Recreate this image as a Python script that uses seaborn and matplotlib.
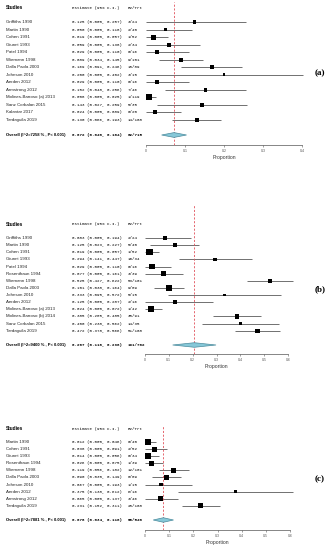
import numpy as np
import pandas as pd
import matplotlib
matplotlib.use("Agg")
import matplotlib.pyplot as plt
import matplotlib.transforms as mtransforms
from matplotlib.patches import Polygon
import seaborn as sns

# --- Panel (a) ---
studies_a = ['Griffiths 1990', 'Martin 1990', 'Cohen 1991', 'Giunni 1993', 'Patel 1994',
             'Wiemann 1998', 'Dalla Paola 2003', 'Johnson 2010', 'Aerden 2012',
             'Armstrong 2012', 'Molines-Barroso (a) 2013', 'Sanz Corbalan 2015',
             'Kalantar 2017', 'Tardaguila 2019']
est_a = [0.125, 0.050, 0.019, 0.059, 0.029, 0.089, 0.169, 0.200, 0.029, 0.152, 0.008, 0.143, 0.024, 0.130]
lo_a = [0.000, 0.000, 0.000, 0.000, 0.000, 0.034, 0.091, 0.000, 0.000, 0.048, 0.000, 0.027, 0.000, 0.066]
hi_a = [0.257, 0.118, 0.057, 0.138, 0.110, 0.145, 0.246, 0.402, 0.110, 0.256, 0.025, 0.259, 0.089, 0.193]
ev_a = ['3/24', '2/40', '1/52', '2/34', '0/16', '9/101', '15/89', '3/15', '0/16', '7/46',
        '1/119', '5/35', '0/20', '14/108']
wt_a = [3, 5, 9, 5, 5, 5, 4, 2, 5, 4, 14, 4, 6, 5]
overall_a = [0.072, 0.040, 0.104]
overall_lab_a = 'Overall (I^2=7258 % , P< 0.001)'
overall_ev_a = '62/715'

# --- Panel (b) ---
studies_b = ['Griffiths 1990', 'Martin 1990', 'Cohen 1991', 'Giunni 1993', 'Patel 1994',
             'Rosenthaun 1994', 'Wiemann 1998', 'Dalla Paola 2003', 'Johnson 2010',
             'Aerden 2012', 'Molines-Barroso (a) 2013', 'Molines-Barroso (b) 2014',
             'Sanz Corbalan 2015', 'Tardaguila 2019']
est_b = [0.083, 0.125, 0.019, 0.294, 0.029, 0.077, 0.525, 0.101, 0.333, 0.125, 0.024, 0.385, 0.400, 0.472]
lo_b = [0.000, 0.023, 0.000, 0.141, 0.000, 0.000, 0.427, 0.038, 0.095, 0.000, 0.000, 0.285, 0.238, 0.378]
hi_b = [0.194, 0.227, 0.057, 0.447, 0.110, 0.161, 0.622, 0.164, 0.572, 0.287, 0.072, 0.485, 0.562, 0.566]
ev_b = ['2/24', '5/40', '1/52', '10/34', '0/16', '3/39', '53/101', '9/89', '5/15', '2/16',
        '1/42', '35/91', '14/35', '51/108']
wt_b = [6, 6, 10, 5, 9, 7, 6, 8, 4, 5, 9, 6, 5, 6]
overall_b = [0.207, 0.116, 0.298]
overall_lab_b = 'Overall (I^2=9400 % , P< 0.001)'
overall_ev_b = '191/702'

# --- Panel (c) ---
studies_c = ['Martin 1990', 'Cohen 1991', 'Giunni 1993', 'Rosenthaun 1994', 'Wiemann 1998',
             'Dalla Paola 2003', 'Johnson 2010', 'Aerden 2012', 'Armstrong 2012',
             'Tardaguila 2019']
est_c = [0.012, 0.038, 0.014, 0.026, 0.119, 0.090, 0.067, 0.375, 0.065, 0.231]
lo_c = [0.000, 0.000, 0.000, 0.000, 0.056, 0.030, 0.000, 0.138, 0.000, 0.152]
hi_c = [0.046, 0.091, 0.056, 0.075, 0.182, 0.149, 0.193, 0.612, 0.137, 0.311]
ev_c = ['0/40', '2/52', '0/34', '1/39', '12/101', '8/89', '1/15', '6/16', '3/46', '25/108']
wt_c = [10, 7, 9, 8, 6, 6, 4, 2, 6, 6]
overall_c = [0.076, 0.034, 0.118]
overall_lab_c = 'Overall (I^2=7881 % , P< 0.001)'
overall_ev_c = '58/540'

W, H = 328, 550
fig = plt.figure(figsize=(W / 100, H / 100), dpi=100)

sans = 'Liberation Sans'
mono = 'Liberation Mono'


def forest(studies, est, lo, hi, ev, wt, overall, overall_lab, overall_ev,
           x0, x1, xmax, y_top, y_r0, y_ov, y_axis, label, label_y):
    """Draw one forest panel, layout given in pixels."""
    n = len(studies)
    step = (y_ov - y_r0) / (n + 1)
    ax = fig.add_axes([x0 / W, 1 - y_axis / H, (x1 - x0) / W, (y_axis - y_top) / H])
    ax.set_xlim(0, xmax)
    ax.set_ylim((y_axis - y_r0) / step, -(y_r0 - y_top) / step)

    df = pd.DataFrame({'study': studies, 'est': est, 'lo': lo, 'hi': hi,
                       'wt': wt, 'row': np.arange(n)})

    # CI lines then squares
    ax.hlines(df['row'], df['lo'], df['hi'], color='#5a5a5a', lw=0.6, zorder=1, clip_on=False)
    sns.scatterplot(data=df, x='est', y='row', size='wt', sizes=(3.5, 20),
                    marker='s', color='black', linewidth=0, legend=False,
                    zorder=3, ax=ax, clip_on=False)

    # overall diamond + reference line
    ov_row = n + 1
    diamond = Polygon([(overall[1], ov_row), (overall[0], ov_row - 0.32),
                       (overall[2], ov_row), (overall[0], ov_row + 0.32)],
                      closed=True, facecolor='#86c8d8', edgecolor='#4a8a9c', lw=0.5, zorder=3)
    ax.add_patch(diamond)
    ax.axvline(overall[0], color='#e0505a', ls=(0, (2.5, 2)), lw=0.6, zorder=2)

    # axis cosmetics
    sns.despine(ax=ax, top=True, right=True, left=True, bottom=False)
    ax.spines['bottom'].set_linewidth(0.5)
    ax.spines['bottom'].set_color('#555555')
    ticks = np.round(np.arange(0, xmax + 0.001, 0.1), 1)
    ax.set_xticks(ticks)
    ax.set_xticklabels(['0' if t == 0 else f'{t:g}' for t in ticks], fontsize=2.5,
                       family=sans, color='#333333')
    ax.tick_params(axis='x', length=1.5, width=0.4, pad=1.5, colors='#555555')
    ax.set_yticks([])
    ax.set_xlabel('Proportion', fontsize=3.6, family=sans, labelpad=1.5, color='#333333')
    ax.set_ylabel('')
    ax.patch.set_alpha(0)

    # text columns
    tr = mtransforms.blended_transform_factory(fig.transFigure, ax.transData)
    hdr = -1.9
    ax.text(6 / W, hdr, 'Studies', transform=tr, fontsize=3.4, family=sans,
            weight='bold', va='center')
    ax.text(72 / W, hdr, 'Estimate (95% C.I.)', transform=tr, fontsize=3.0,
            family=mono, va='center')
    ax.text(128 / W, hdr, 'Ev/Trt', transform=tr, fontsize=3.0, family=mono, va='center')
    for i in range(n):
        ax.text(6 / W, i, studies[i], transform=tr, fontsize=3.2, family=sans,
                va='center', color='#222222')
        ax.text(72 / W, i, f'{est[i]:.3f} ({lo[i]:.3f}, {hi[i]:.3f})', transform=tr,
                fontsize=3.0, family=mono, va='center')
        ax.text(128 / W, i, ev[i], transform=tr, fontsize=3.0, family=mono, va='center')
    ax.text(6 / W, ov_row, overall_lab, transform=tr, fontsize=3.0, family=sans,
            weight='bold', va='center')
    ax.text(72 / W, ov_row, f'{overall[0]:.3f} ({overall[1]:.3f}, {overall[2]:.3f})',
            transform=tr, fontsize=3.0, family=mono, weight='bold', va='center')
    ax.text(128 / W, ov_row, overall_ev, transform=tr, fontsize=3.0, family=mono,
            weight='bold', va='center')

    fig.text(320 / W, 1 - label_y / H, label, fontsize=6.5, family='Liberation Serif',
             weight='bold', ha='center', va='center')
    return ax


forest(studies_a, est_a, lo_a, hi_a, ev_a, wt_a, overall_a, overall_lab_a, overall_ev_a,
       146, 302, 0.4, 2, 22, 135, 145, '(a)', 73)
forest(studies_b, est_b, lo_b, hi_b, ev_b, wt_b, overall_b, overall_lab_b, overall_ev_b,
       145, 288, 0.6, 205, 238, 345, 354, '(b)', 289)
forest(studies_c, est_c, lo_c, hi_c, ev_c, wt_c, overall_c, overall_lab_c, overall_ev_c,
       145, 290, 0.6, 425, 442, 520, 530, '(c)', 479)

fig.savefig('out.png', dpi=100, facecolor='white')
